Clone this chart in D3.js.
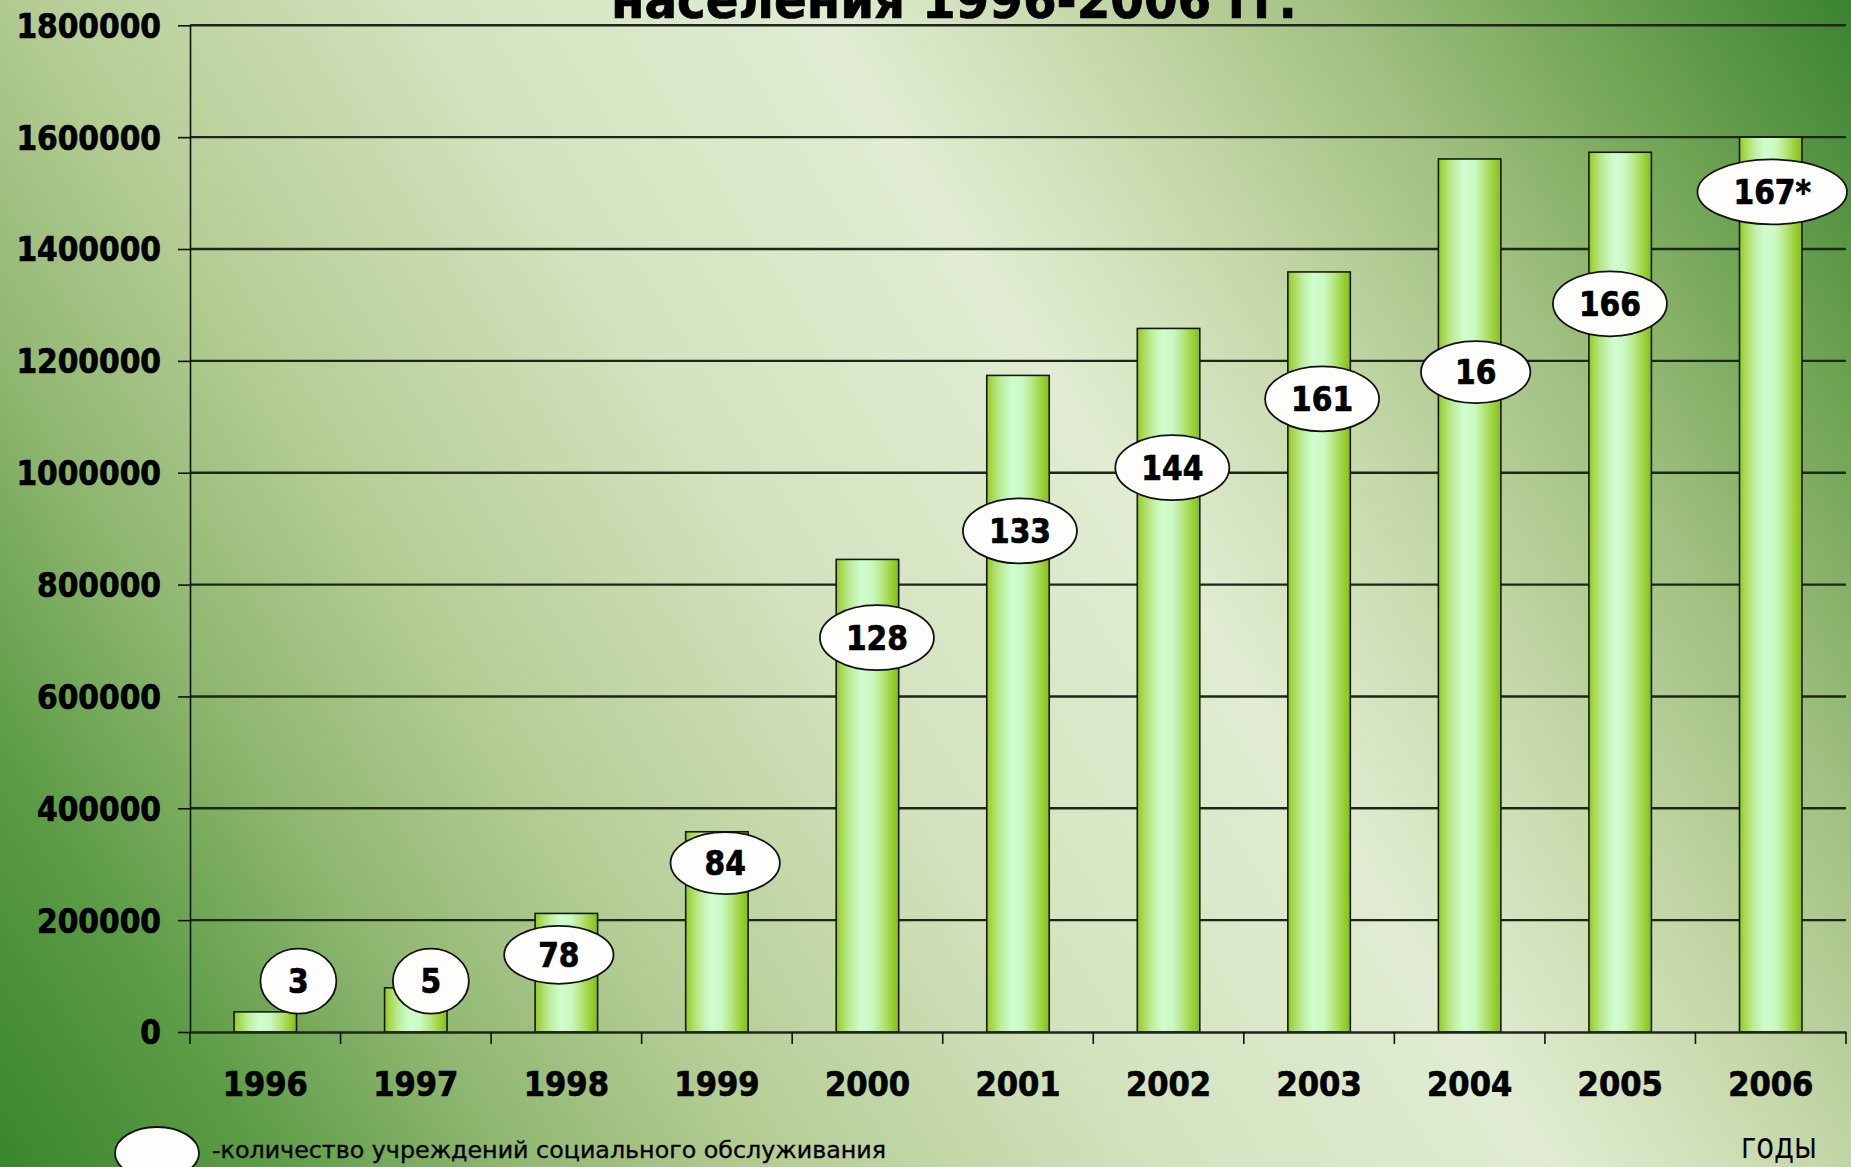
<!DOCTYPE html>
<html>
<head>
<meta charset="utf-8">
<script src="https://cdn.jsdelivr.net/npm/d3@7/dist/d3.min.js"></script>
<style>
  html, body { margin: 0; padding: 0; background: #fff; }
  svg { display: block; }
  .cond { font-family: "DejaVu Sans Condensed", "DejaVu Sans", sans-serif; font-stretch: condensed; }
  .heavy { stroke: #000; stroke-width: 0.7px; paint-order: stroke; }
</style>
</head>
<body>
<svg id="chart" width="1851" height="1167"></svg>
<script>
// ---- data ----
const years = ["1996","1997","1998","1999","2000","2001","2002","2003","2004","2005","2006"];
const population = [36000, 79000, 212000, 358000, 845000, 1174000, 1258000, 1359000, 1561000, 1573000, 1600000];
const institutions = ["3","5","78","84","128","133","144","161","16","166","167*"];
// where each count label sits, in chart units (value axis) and as a shift within its year slot
const labelLevel = [91000, 91000, 138000, 302000, 705000, 896000, 1009000, 1132000, 1180000, 1302000, 1502000];
const labelShift = [0.22, 0.10, -0.05, 0.055, 0.063, 0.013, 0.025, 0.02, 0.04, -0.068, 0.01];
const yTicks = [0, 200000, 400000, 600000, 800000, 1000000, 1200000, 1400000, 1600000, 1800000];
const titleText = "населения 1996-2006 гг.";
const legendText = "-количество учреждений социального обслуживания";
const xAxisTitle = "годы";

// ---- layout ----
const W = 1851, H = 1167;
const plot = { left: 190, right: 1846, top: 25.3, bottom: 1032 };
const svg = d3.select("#chart");
const defs = svg.append("defs");

// background gradient
const bg = defs.append("linearGradient").attr("id", "bg")
  .attr("gradientUnits", "userSpaceOnUse")
  .attr("x1", -527).attr("y1", 333.5).attr("x2", 1321.6).attr("y2", -836);
[[0, "#3a862d"], [0.10, "#5b9b44"], [0.20, "#90b771"], [0.30, "#b5cd95"], [0.45, "#d3e3bf"],
 [0.60, "#e1ecd2"], [0.70, "#c6d9aa"], [0.80, "#a1c081"], [0.90, "#6ea352"], [1, "#3a8330"]]
  .forEach(([o, c]) => bg.append("stop").attr("offset", o).attr("stop-color", c));

// bar gradient
const bar = defs.append("linearGradient").attr("id", "bar").attr("x1", 0).attr("x2", 1).attr("y1", 0).attr("y2", 0);
[[0, "#8fc82e"], [0.08, "#a6d84c"], [0.22, "#bdeb9a"], [0.40, "#cffdcd"], [0.58, "#cbf8c2"],
 [0.75, "#b4e47a"], [0.90, "#98cf32"], [1, "#86bd1c"]]
  .forEach(([o, c]) => bar.append("stop").attr("offset", o).attr("stop-color", c));

svg.append("rect").attr("width", W).attr("height", H).attr("fill", "url(#bg)");

// scales
const x = d3.scaleBand().domain(years).range([plot.left, plot.right]).padding(0);
const y = d3.scaleLinear().domain([0, 1800000]).range([plot.bottom, plot.top]);
const barW = x.bandwidth() * 0.415;

// gridlines
svg.append("g").selectAll("line").data(yTicks.filter(d => d > 0)).join("line")
  .attr("x1", plot.left).attr("x2", plot.right)
  .attr("y1", d => y(d)).attr("y2", d => y(d))
  .attr("stroke", "#1d261a").attr("stroke-width", 2.4);

// y axis
const yAxis = svg.append("g").attr("transform", `translate(${plot.left},0)`)
  .call(d3.axisLeft(y).tickValues(yTicks).tickFormat(d3.format("d")).tickSize(12).tickSizeOuter(0).tickPadding(17));
yAxis.select(".domain").attr("stroke", "#111").attr("stroke-width", 1.6);
yAxis.selectAll(".tick line").attr("stroke", "#111").attr("stroke-width", 1.6);
yAxis.selectAll(".tick text").attr("class", "cond heavy").attr("font-size", 33).attr("font-weight", "bold")
  .attr("fill", "#000").attr("dy", "0.36em");

// bars
svg.append("g").selectAll("rect").data(years).join("rect")
  .attr("x", (d) => x(d) + x.bandwidth() / 2 - barW / 2)
  .attr("width", barW)
  .attr("y", (d, i) => y(population[i]))
  .attr("height", (d, i) => y(0) - y(population[i]))
  .attr("fill", "url(#bar)").attr("stroke", "#141a10").attr("stroke-width", 1.6);

// x axis
const xAxis = svg.append("g").attr("transform", `translate(0,${plot.bottom})`)
  .call(d3.axisBottom(x).tickSize(0).tickPadding(64).tickSizeOuter(0));
xAxis.select(".domain").attr("stroke", "#222").attr("stroke-width", 2.4);
xAxis.selectAll(".tick text").attr("class", "cond heavy").attr("font-size", 34).attr("font-weight", "bold").attr("fill", "#000").attr("dy", 0);
// category separators
xAxis.selectAll("line.sep").data(d3.range(years.length + 1)).join("line").attr("class", "sep")
  .attr("x1", i => plot.left + i * x.step()).attr("x2", i => plot.left + i * x.step())
  .attr("y1", 0).attr("y2", 12).attr("stroke", "#111").attr("stroke-width", 1.6);

// count labels (ellipses)
const lab = svg.append("g").selectAll("g").data(institutions).join("g")
  .attr("transform", (d, i) => `translate(${x(years[i]) + x.bandwidth() / 2 + labelShift[i] * x.step()},${y(labelLevel[i])})`);
const labText = lab.append("text").attr("class", "cond heavy").attr("font-size", 33).attr("font-weight", "bold")
  .attr("text-anchor", "middle").attr("dy", "0.36em").attr("fill", "#000").text(d => d);
labText.each(function (d) {
  const w = this.getComputedTextLength();
  d3.select(this.parentNode).insert("ellipse", "text")
    .attr("rx", Math.max(38, 26 + w / 2 + (d.length === 2 ? 8 : 0) + (w > 65 ? 10 : 0)))
    .attr("ry", d.length === 2 && d !== "78" ? 31 : (d === "78" ? 29 : 32.5))
    .attr("fill", "#fdfdfb").attr("stroke", "#111").attr("stroke-width", 1.8);
});

// title (second line, mostly cut off at top)
svg.append("text").attr("class", "cond heavy").attr("x", 611).attr("y", 17.5)
  .attr("font-size", 52).attr("font-weight", "bold").attr("fill", "#000")
  .attr("textLength", 686).attr("lengthAdjust", "spacingAndGlyphs").text(titleText);

// legend
svg.append("ellipse").attr("cx", 157).attr("cy", 1153).attr("rx", 42).attr("ry", 26)
  .attr("fill", "#fdfdfb").attr("stroke", "#111").attr("stroke-width", 1.8);
svg.append("text").attr("class", "cond").attr("x", 212).attr("y", 1158)
  .attr("font-size", 23).attr("fill", "#000").attr("stroke", "#000").attr("stroke-width", 0.3)
  .attr("textLength", 674).attr("lengthAdjust", "spacingAndGlyphs").text(legendText);

// axis title
svg.append("text").attr("class", "cond").attr("x", 1817).attr("y", 1158).attr("text-anchor", "end")
  .attr("font-size", 35).attr("fill", "#000")
  .attr("textLength", 76).attr("lengthAdjust", "spacingAndGlyphs").text(xAxisTitle);
</script>
</body>
</html>
